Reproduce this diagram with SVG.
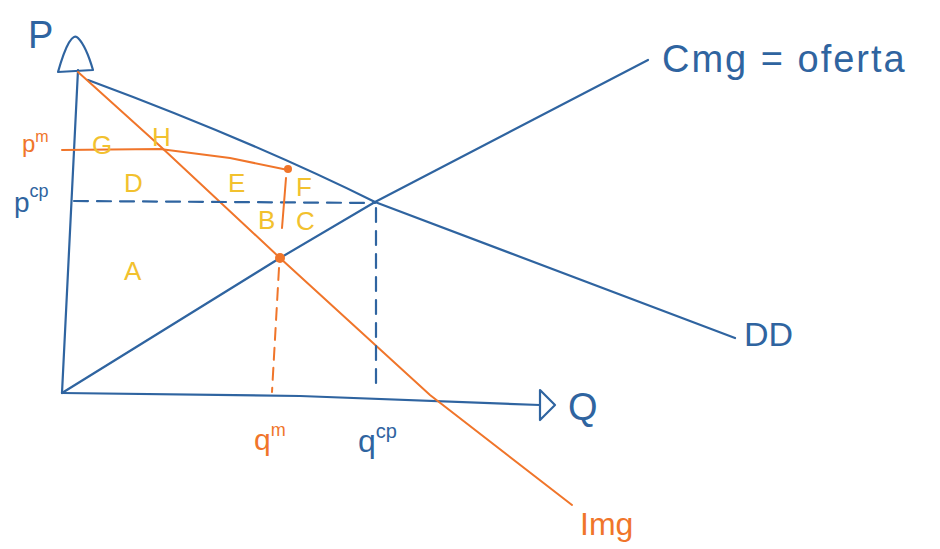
<svg xmlns="http://www.w3.org/2000/svg" width="940" height="549" viewBox="0 0 940 549">
<style>
.b{stroke:#2f64a0;fill:none;stroke-width:2.2;stroke-linecap:round;stroke-linejoin:round}
.o{stroke:#f0752a;fill:none;stroke-width:2;stroke-linecap:round}
.bd{stroke-dasharray:14 9}
.od{stroke-dasharray:12 8}
text{font-family:"Liberation Sans",Arial,sans-serif}
.tb{fill:#2f64a0}
.to{fill:#f0752a}
.ty{fill:#f2c12e;font-size:26px}
</style>
<rect width="940" height="549" fill="#ffffff"/>
<g id="axes">
<path class="b" d="M78,70 L62,393"/>
<path class="b" d="M58,72 Q70,30 78,38 Q86,46 93,70 Z"/>
<path class="b" d="M62,393 L300,396 L540,405"/>
<path class="b" d="M540,390 L555,405 L540,420 Z"/>
</g>
<g id="axis-labels">
<text class="tb" x="28" y="48" font-size="38">P</text>
<text class="tb" x="568" y="420" font-size="38">Q</text>
</g>
<g id="connectors">
<path id="demand" class="b" d="M88,80 Q250,140 375,202 L735,338"/>
<path id="supply" class="b" d="M62,393 L280,258 L375,202 L648,60"/>
<path id="img" class="o" d="M78,72 L160,146 L280,258 L430,395 L572,505"/>
<path id="pm-line" class="o" d="M62,150 L160,149 L230,158 L288,170"/>
<path id="pcp-line" class="b bd" d="M74,201 L375,203"/>
<path id="qm-line1" class="o" d="M286,178 L282,228"/>
<path id="qm-line2" class="o od" d="M279,268 L272,392"/>
<path id="qcp-line" class="b bd" d="M376,208 L376,390"/>
<circle cx="288" cy="169" r="4" fill="#f0752a"/>
<circle cx="280" cy="258" r="5" fill="#f0752a"/>
</g>
<g id="labels">
<text class="to" x="22" y="152" font-size="24">p<tspan font-size="16" dy="-10">m</tspan></text>
<text class="tb" x="14" y="212" font-size="28">p<tspan font-size="18" dy="-15">cp</tspan></text>
<text class="to" x="254" y="450" font-size="30">q<tspan font-size="18" dy="-14">m</tspan></text>
<text class="tb" x="358" y="452" font-size="32">q<tspan font-size="20" dy="-14">cp</tspan></text>
<text class="tb" x="662" y="72" font-size="38" letter-spacing="2">Cmg = oferta</text>
<text class="tb" x="744" y="346" font-size="34">DD</text>
<text class="to" x="580" y="535" font-size="32">Img</text>
</g>
<g id="areas">
<text class="ty" x="92" y="154">G</text>
<text class="ty" x="152" y="146">H</text>
<text class="ty" x="124" y="192">D</text>
<text class="ty" x="228" y="192">E</text>
<text class="ty" x="296" y="196">F</text>
<text class="ty" x="258" y="229">B</text>
<text class="ty" x="296" y="230">C</text>
<text class="ty" x="124" y="280" font-size="32">A</text>
</g>
</svg>
